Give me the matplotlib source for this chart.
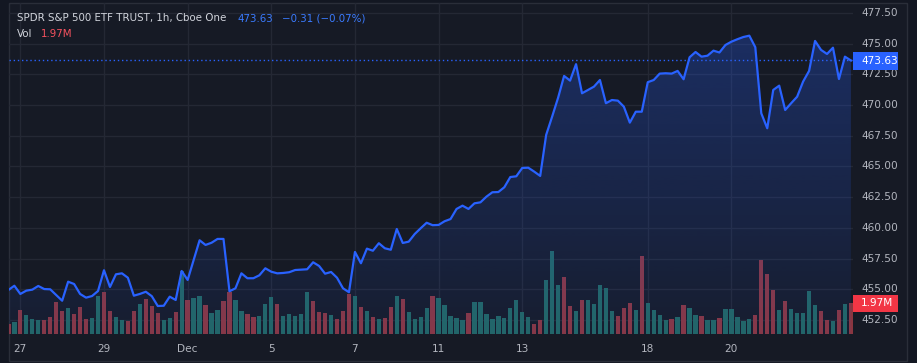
import matplotlib.pyplot as plt
import numpy as np
from matplotlib.colors import to_rgb
from matplotlib.patches import Rectangle

# SPY hourly bars (Cboe One), Nov 24 .. Dec 22 2023, 7 bars per session
# index 0 = Nov 27 09:30; the two bars before it are the tail of Nov 24
FIRST_IDX = -2

price = [
    454.94, 455.29,                                              # Nov 24
    454.62, 454.89, 454.97, 455.27, 455.02, 455.00, 454.54,      # Nov 27
    454.07, 455.62, 455.43, 454.62, 454.32, 454.45, 454.86,      # Nov 28
    456.55, 455.19, 456.22, 456.30, 455.94, 454.48, 454.62,      # Nov 29
    454.80, 454.44, 453.64, 453.66, 454.40, 454.13, 456.49,      # Nov 30
    455.76, 457.39, 458.99, 458.61, 458.79, 459.10, 459.10,      # Dec 1
    454.84, 455.08, 456.30, 455.90, 455.90, 456.14, 456.71,      # Dec 4
    456.43, 456.30, 456.33, 456.39, 456.57, 456.60, 456.63,      # Dec 5
    457.20, 456.90, 456.27, 456.41, 455.94, 455.08, 454.76,      # Dec 6
    458.04, 457.12, 458.31, 458.14, 458.75, 458.34, 458.22,      # Dec 7
    459.91, 458.77, 458.88, 459.50, 459.97, 460.42, 460.22,      # Dec 8
    460.24, 460.54, 460.72, 461.54, 461.81, 461.54, 462.00,      # Dec 11
    462.08, 462.54, 462.90, 462.92, 463.31, 464.14, 464.20,      # Dec 12
    464.88, 464.90, 464.58, 464.23, 467.57, 469.06, 470.60,      # Dec 13
    472.37, 471.99, 473.33, 470.96, 471.23, 471.50, 472.04,      # Dec 14
    470.15, 470.41, 470.36, 469.87, 468.57, 469.46, 469.46,      # Dec 15
    471.86, 472.04, 472.56, 472.59, 472.56, 472.78, 472.10,      # Dec 18
    473.89, 474.32, 473.94, 474.02, 474.43, 474.28, 474.89,      # Dec 19
    475.16, 475.36, 475.54, 475.65, 474.71, 469.33, 468.11,      # Dec 20
    471.23, 471.58, 469.60, 470.15, 470.68, 471.91, 472.78,      # Dec 21
    475.22, 474.49, 474.16, 474.67, 472.12, 473.94, 473.63,      # Dec 22
]

# volume in millions of shares
volume = [
    0.64, 0.77,
    1.54, 1.22, 0.96, 0.90, 0.90, 1.09, 2.05,
    1.47, 1.66, 1.28, 1.73, 0.96, 1.02, 2.43,
    2.69, 1.47, 1.09, 0.90, 0.83, 1.47, 1.92,
    2.24, 1.79, 1.34, 0.90, 1.02, 1.41, 4.03,
    2.18, 2.30, 2.43, 1.86, 1.34, 1.54, 2.11,
    2.69, 2.18, 1.47, 1.28, 1.09, 1.15, 1.92,
    2.37, 1.92, 1.15, 1.28, 1.15, 1.28, 2.69,
    2.11, 1.41, 1.34, 1.22, 0.96, 1.47, 2.56,
    2.43, 1.73, 1.47, 1.09, 0.96, 1.02, 1.73,
    2.43, 2.24, 1.41, 0.96, 1.09, 1.66, 2.43,
    2.30, 1.86, 1.15, 1.02, 0.90, 1.34, 2.05,
    2.05, 1.28, 0.96, 1.15, 1.02, 1.66, 2.18,
    1.41, 1.09, 0.64, 0.90, 3.46, 5.31, 3.14,
    3.65, 1.79, 1.47, 2.18, 2.18, 1.92, 3.14,
    2.94, 1.47, 1.15, 1.66, 1.98, 1.54, 4.99,
    1.98, 1.54, 1.22, 0.90, 0.96, 1.09, 1.86,
    1.66, 1.22, 1.15, 0.90, 0.90, 1.02, 1.60,
    1.60, 1.09, 0.83, 0.96, 1.22, 4.74, 3.84,
    2.82, 1.54, 2.11, 1.60, 1.34, 1.34, 2.75,
    1.86, 1.47, 0.90, 0.83, 1.54, 1.92, 1.97,
]

# U = bar closed above its open, D = below
bar_dir = (
    "DU"
    "DUUUDDD" "DUDDDUU" "DDUUDDU" "DDDUUDU" "DUUDUUD"
    "DUUDDUU" "UDUUUUU" "DDDUDDD" "UDUDUDD" "UDUUUUD"
    "UUUUUDU" "UUUUUUU" "UUDDUUU" "DDUDUUU" "UUDDDUD"
    "UUUUDUD" "UUDUUDU" "UUUUDDD" "DUDUUUU" "UDDUDUD"
)

tick_idx = [0, 14, 28, 42, 56, 70, 84, 105, 119]
tick_labels = ["27", "29", "Dec", "5", "7", "11", "13", "18", "20"]
price_ticks = [452.5, 455.0, 457.5, 460.0, 462.5, 465.0, 467.5, 470.0, 472.5, 475.0, 477.5]

title = "SPDR S&P 500 ETF TRUST, 1h, Cboe One"
last_price = 473.63
change_text = "\u22120.31 (\u22120.07%)"
vol_text = "1.97M"

BG = "#161a25"
OUTER = "#131722"
FRAME = "#2a2e39"
GRID = "#242834"
TEXT = "#b2b5be"
LINE = "#2962ff"
UP = "#226662"
DOWN = "#8a3640"
RED = "#f23645"

W, H = 917, 363
plt.rcParams["font.family"] = ["DejaVu Sans"]

fig = plt.figure(figsize=(W / 100, H / 100), dpi=100)
fig.patch.set_facecolor(OUTER)


def fx(px):
    return px / W


def fy(py):
    return 1 - py / H


# widget frame
fig.patches.append(Rectangle((fx(8.5), fy(361)), fx(907) - fx(8.5), fy(3) - fy(361),
                             transform=fig.transFigure, facecolor=BG, edgecolor=FRAME,
                             linewidth=1, zorder=-5))

L, R, T, B = 8.5, 853, 3, 334
rect = [fx(L), fy(B), fx(R) - fx(L), fy(T) - fy(B)]
ax_vol = fig.add_axes(rect)
ax = fig.add_axes(rect)
for a in (ax_vol, ax):
    a.set_facecolor("none")
    for s in a.spines.values():
        s.set_visible(False)
    a.set_xticks([])
    a.set_yticks([])

x = np.arange(len(price)) + FIRST_IDX
xlim = (-1.98, 139.35)
ylim = (451.36, 478.31)

# volume bars (bottom layer)
colors = [UP if d == "U" else DOWN for d in bar_dir]
ax_vol.bar(x, volume, width=0.72, color=colors, linewidth=0)
ax_vol.set_xlim(*xlim)
ax_vol.set_ylim(0, 21.2)

# grid, drawn under the bars
for i in tick_idx:
    ax_vol.axvline(i, color=GRID, lw=1, zorder=0)
for lvl in price_ticks:
    ax_vol.plot(xlim, [lvl, lvl], color=GRID, lw=1, zorder=0, transform=ax.transData)

# area: gradient fill clipped to the region under the line
poly = ax.fill_between(x, price, ylim[0], facecolor="none", edgecolor="none")
grad = np.zeros((256, 1, 4))
grad[..., :3] = to_rgb(LINE)
grad[:, 0, 3] = np.linspace(0.05, 0.28, 256)
im = ax.imshow(grad, extent=[x[0], x[-1], ylim[0], max(price)], origin="lower",
               aspect="auto", interpolation="bilinear", zorder=1)
im.set_clip_path(poly.get_paths()[0], transform=ax.transData)
ax.plot(x, price, color=LINE, lw=1.6, solid_joinstyle="round", zorder=3)
ax.axhline(last_price, color=LINE, lw=1, ls=(0, (1, 2)), zorder=2)
ax.set_xlim(*xlim)
ax.set_ylim(*ylim)

# price scale
lab_x = (861 - L) / (R - L)
for lvl in price_ticks:
    ax.text(lab_x, lvl, f"{lvl:.2f}", transform=ax.get_yaxis_transform(),
            color=TEXT, fontsize=7.6, ha="left", va="center", clip_on=False)

# time scale
lab_y = (B - 351.7) / (B - T)
for i, lab in zip(tick_idx, tick_labels):
    ax.text(i, lab_y, lab, transform=ax.get_xaxis_transform(), color=TEXT,
            fontsize=7.6, ha="center", va="baseline", clip_on=False)

# last value badges on the scale
fig.patches.append(Rectangle((fx(853), fy(69.5)), fx(897.5) - fx(853), fy(52) - fy(69.5),
                             transform=fig.transFigure, facecolor=LINE, edgecolor="none", zorder=5))
fig.text(fx(861), fy(60.8), f"{last_price:.2f}", color="white", fontsize=7.6,
         ha="left", va="center", zorder=6)
fig.patches.append(Rectangle((fx(853), fy(312)), fx(897.5) - fx(853), fy(295) - fy(312),
                             transform=fig.transFigure, facecolor=RED, edgecolor="none", zorder=5))
fig.text(fx(861), fy(303.5), vol_text, color="white", fontsize=7.6,
         ha="left", va="center", zorder=6)

# legend lines
fig.text(fx(17), fy(21.5), title, color="#d1d4dc", fontsize=7.4, va="baseline")
fig.text(fx(238), fy(21.5), f"{last_price:.2f}", color="#3a7bff", fontsize=7.4, va="baseline")
fig.text(fx(282), fy(21.5), change_text, color="#3a7bff", fontsize=7.4, va="baseline")
fig.text(fx(17), fy(37), "Vol", color="#d1d4dc", fontsize=7.4, va="baseline")
fig.text(fx(41), fy(37), vol_text, color="#f7525f", fontsize=7.4, va="baseline")

fig.savefig("out.png", dpi=100, facecolor=OUTER)
